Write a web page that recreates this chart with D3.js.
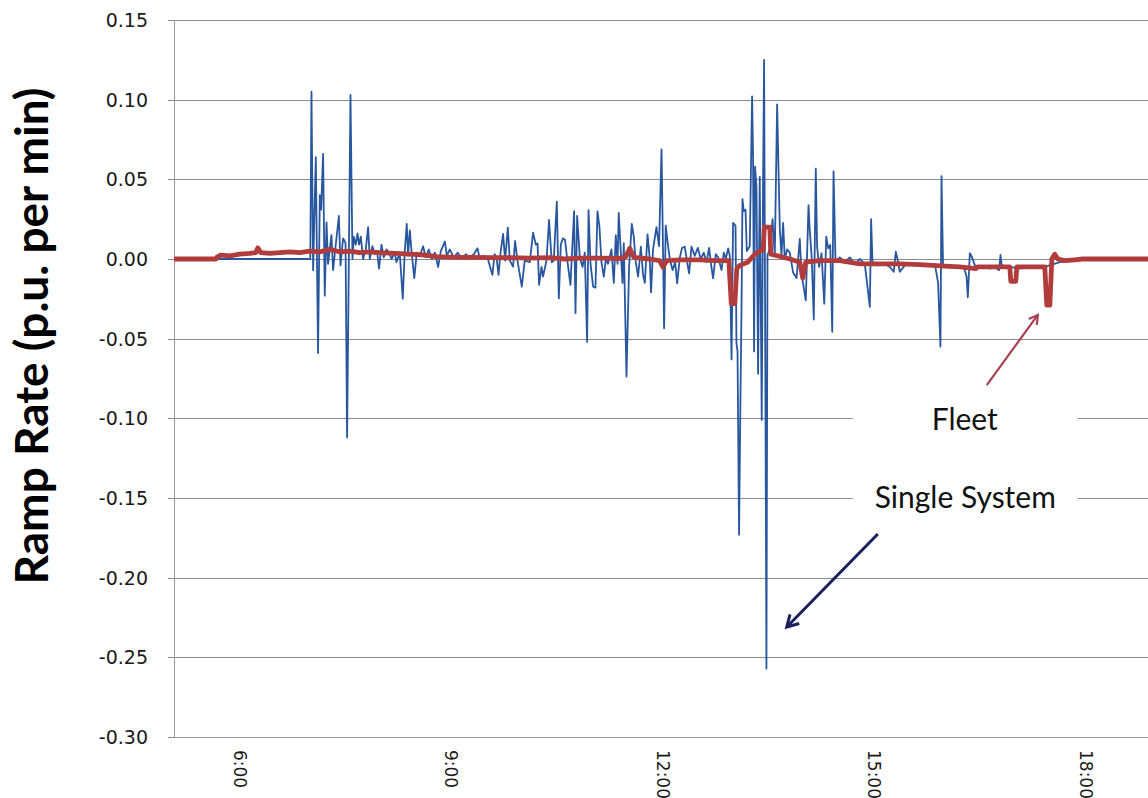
<!DOCTYPE html>
<html>
<head>
<meta charset="utf-8">
<script src="https://cdnjs.cloudflare.com/ajax/libs/d3/7.8.5/d3.min.js"></script>
<style>
  body { margin: 0; background: #fff; }
  svg { display: block; }
</style>
</head>
<body>
<svg id="chart" width="1148" height="798"></svg>
<script>
// Ramp rate series, [minutes after midnight, p.u. per min]
const singleSystem = [
  [304, 0], [420, 0], [421.0, 0.105], [422.4, -0.007], [424.7, 0.064], [425.8, -0.009],
  [426.6, -0.059], [428.1, 0.040], [429.2, 0.031], [430.9, 0.066], [432.3, -0.023],
  [433.8, 0.023], [435.1, -0.003], [438.0, 0.015], [439.4, -0.007], [440.8, 0.003],
  [444.3, 0.027], [445.7, -0.004], [447.9, 0.013], [450.0, 0.010], [451.3, -0.112],
  [454.2, 0.103], [455.9, 0.0], [457.0, 0.014], [458.7, 0.009], [460.2, 0.016],
  [461.5, 0.009], [463.0, 0.014], [464.9, 0.0], [467.2, 0.006], [469.2, 0.020],
  [470.6, 0.0], [472.9, 0.008], [474.9, 0.003], [476.8, 0.005], [478.5, -0.006],
  [480.6, 0.009], [482.5, 0.001], [484.8, 0.006], [487.1, 0.004], [489.1, 0.0],
  [491.9, 0.004], [493.3, -0.002], [494.7, 0.001], [496.2, 0.003], [498.7, -0.025],
  [500.4, 0.005], [502.1, 0.022], [503.2, 0.002], [504.7, 0.018], [506.4, 0.003],
  [508.5, -0.012], [510.6, 0.004], [513.2, 0.002], [516.0, 0.008], [518.3, 0.001],
  [520.8, 0.006], [523.4, 0.0], [526.0, 0.004], [528.8, -0.005], [531.1, 0.005],
  [534.5, 0.011], [536.2, 0.002], [538.7, 0.006], [542.1, 0.001], [545.5, 0.004],
  [549.1, 0.0], [552.3, 0.003], [555.7, 0.001], [559.1, 0.003], [562.3, 0.0067],
  [564.3, 0.0], [567.7, 0.002], [571.1, 0.0], [575.0, -0.010], [576.8, 0.003],
  [578.5, 0.001], [580.2, -0.010], [581.9, 0.004], [584.1, 0.0157], [585.8, -0.001],
  [588.1, 0.0197], [589.8, -0.001], [592.6, -0.0048], [594.3, 0.0113], [596.3, -0.001],
  [600.0, -0.0174], [602.5, -0.001], [606.8, -0.002], [609.6, 0.0165], [611.9, 0.009],
  [613.4, 0.0098], [614.7, -0.0163], [616.8, -0.005], [618.1, -0.011], [621.0, -0.001],
  [623.2, 0.0245], [625.5, -0.002], [627.2, -0.001], [629.8, 0.036], [631.5, -0.0247],
  [633.2, 0.009], [635.1, 0.013], [636.8, 0.012], [638.6, 0.0], [641.4, -0.0163],
  [644.5, 0.030], [645.7, -0.034], [647.1, 0.027], [649.4, 0.001], [651.7, -0.005],
  [653.6, 0.004], [655.6, -0.052], [656.8, 0.0307], [658.5, -0.003], [660.7, -0.0174],
  [662.7, -0.018], [664.4, 0.030], [666.1, 0.020], [667.8, -0.002], [669.8, -0.011],
  [671.5, 0.0], [673.4, -0.003], [676.3, 0.006], [678.3, -0.015], [680.0, 0.015],
  [681.5, -0.003], [682.5, 0.029], [684.0, 0.008], [685.7, -0.015], [686.8, 0.010],
  [689.1, -0.0738], [691.3, -0.005], [693.6, 0.022], [695.3, 0.014], [697.0, -0.002],
  [699.0, -0.011], [701.3, 0.0077], [703.2, -0.010], [704.7, -0.015], [707.0, 0.0155],
  [708.9, 0.0], [710.0, -0.021], [711.7, 0.006], [714.6, 0.020], [716.8, 0.008],
  [718.9, 0.0688], [720.3, 0.0], [721.1, -0.0435], [722.5, 0.021], [724.5, 0.008],
  [726.0, 0.0], [728.3, -0.007], [730.5, -0.002], [732.2, -0.0153], [734.5, 0.001],
  [736.4, 0.007], [738.7, 0.0077], [740.7, -0.002], [742.4, -0.009], [744.4, 0.0077],
  [747.2, 0.002], [749.8, 0.007], [752.3, 0.0], [754.9, 0.004], [757.2, -0.002],
  [759.4, 0.007], [760.8, -0.002], [762.8, -0.0121], [765.1, 0.003], [767.1, 0.001],
  [770.0, -0.0069], [771.9, 0.004], [773.6, 0.0], [775.6, 0.0067], [777.0, 0.002],
  [778.5, -0.063], [779.8, 0.0226], [781.9, 0.021], [782.7, -0.053], [783.6, -0.058],
  [784.9, -0.173], [786.1, -0.086], [787.0, -0.030], [787.8, 0.0376], [788.9, 0.030],
  [790.4, 0.031], [791.5, 0.005], [794.0, 0.008], [796.0, 0.102], [796.8, 0.0655],
  [797.7, -0.058], [798.5, 0.058], [799.7, 0.0453], [801.1, -0.072], [802.5, 0.0516],
  [804.2, -0.101], [805.3, 0.045], [806.2, 0.125], [807.4, -0.096], [808.2, -0.257],
  [809.1, 0.0025], [811.1, 0.006], [813.4, 0.025], [815.3, 0.002], [817.3, 0.097],
  [818.5, 0.0555], [819.6, 0.0186], [821.0, 0.002], [822.4, 0.0226], [823.8, 0.0],
  [825.8, 0.006], [828.1, 0.004], [830.9, -0.0085], [833.8, -0.012], [836.6, 0.0126],
  [838.0, -0.009], [840.0, -0.0183], [841.7, -0.026], [844.0, 0.0338], [845.1, 0.018],
  [846.8, 0.0], [848.5, -0.038], [850.2, 0.0567], [851.3, 0.008], [853.0, -0.005],
  [855.1, 0.0036], [857.4, -0.028], [859.1, 0.014], [860.8, 0.0067], [862.5, 0.0088],
  [864.2, -0.0457], [865.3, 0.055], [867.0, -0.002], [870.6, 0.001], [874.9, -0.002],
  [879.1, 0.001], [883.4, -0.003], [887.7, 0.0], [891.9, -0.003], [896.2, -0.030],
  [897.3, 0.025], [898.5, -0.003], [903.0, -0.004], [908.9, -0.003], [913.2, -0.005],
  [916.6, -0.008], [918.3, 0.0046], [920.0, -0.001], [921.7, -0.008], [926.0, -0.004],
  [931.9, -0.003], [938.7, -0.004], [945.5, -0.003], [951.5, -0.003], [954.3, -0.015],
  [956.3, -0.055], [957.2, 0.052], [958.5, -0.004], [964.2, -0.004], [971.1, -0.005],
  [976.2, -0.005], [978.5, -0.011], [979.6, -0.024], [981.3, 0.0036], [983.0, 0.0015],
  [985.5, -0.004], [989.8, -0.005], [994.0, -0.005], [998.3, -0.006], [1002.5, -0.005],
  [1006.2, -0.007], [1007.4, 0.0025], [1008.5, -0.004], [1015.3, -0.005], [1023.8, -0.006],
  [1032.3, -0.005], [1045.1, -0.005], [1057.9, -0.002], [1070.6, -0.001], [1077.4, 0],
  [1143, 0]
];

const fleet = [
  [304, 0], [339.6, 0], [340.4, 0.001], [343.8, 0.0025], [351.5, 0.002], [360, 0.003],
  [368.5, 0.0035], [373.6, 0.004], [375.3, 0.007], [377.9, 0.004], [385.5, 0.0035],
  [394.0, 0.004], [402.5, 0.0045], [411.1, 0.004], [419.6, 0.005], [428.1, 0.0045],
  [436.6, 0.006], [445.1, 0.0045], [453.6, 0.005], [462.1, 0.004], [470.6, 0.0045],
  [479.1, 0.004], [491.9, 0.0035], [504.7, 0.003], [517.4, 0.0025], [527.6, 0.0015],
  [543.0, 0.001], [555.7, 0.001], [572.8, 0.0008], [589.8, 0.0008], [606.8, 0.0005],
  [623.8, 0.0008], [636.6, 0.0], [649.4, 0.0005], [666.4, 0.0005], [683.4, 0.0003],
  [688.5, 0.0015], [691.9, 0.0067], [695.3, 0.001], [708.9, 0.0], [717.4, -0.001],
  [720.0, -0.005], [723.4, -0.001], [734.5, -0.0005], [751.5, -0.0005], [764.3, -0.001],
  [776.2, -0.001], [778.3, -0.028], [781.3, -0.028], [783.0, -0.006], [785.5, -0.004],
  [792.3, -0.002], [798.3, 0.003], [802.5, 0.005], [805.5, 0.006], [806.4, 0.020],
  [811.1, 0.020], [811.9, 0.003], [817.9, 0.002], [828.1, 0.0], [836.6, -0.002],
  [839.1, -0.012], [841.7, -0.002], [853.6, -0.001], [870.6, -0.001], [887.7, -0.003],
  [904.7, -0.003], [921.7, -0.003], [938.7, -0.0035], [960.0, -0.0045], [972.8, -0.005],
  [986.4, -0.006], [988.1, -0.005], [1006.8, -0.005], [1015.3, -0.005], [1016.2, -0.014],
  [1020.4, -0.014], [1021.3, -0.005], [1032.3, -0.005], [1045.1, -0.005], [1046.8, -0.029],
  [1049.4, -0.029], [1051.1, 0.0], [1053.6, 0.003], [1056.2, 0.0], [1061.9, -0.001],
  [1070.6, -0.0005], [1077.4, 0], [1143, 0]
];

const yTickValues = [-0.30, -0.25, -0.20, -0.15, -0.10, -0.05, 0.00, 0.05, 0.10, 0.15];
const xTickHours = [6, 9, 12, 15, 18];
const yTitle = "Ramp Rate (p.u. per min)";

// callouts in data units: label position, arrow start and end, blank box behind label
const callouts = [
  { text: "Fleet", at: [977, -0.1073], from: [995.7, -0.0791], to: [1039.2, -0.0351],
    box: [881.7, 1073.2, -0.087, -0.115], color: "#a8414f", width: 2.2, head: 10 },
  { text: "Single System", at: [977.4, -0.1563], from: [903, -0.1726], to: [825.5, -0.231],
    box: [881.7, 1073.2, -0.137, -0.165], color: "#1c1f5e", width: 3, head: 13 }
];

const base = new Date(2013, 5, 1).getTime();
const toDate = m => new Date(base + m * 60000);

const svg = d3.select("#chart");
const margin = { left: 174, top: 20, bottom: 737 };

const x = d3.scaleTime()
  .domain([toDate(304), toDate(1143)])
  .range([174, 174 + 839 * 70.5 / 60]);

const y = d3.scaleLinear()
  .domain([-0.30, 0.15])
  .range([margin.bottom, margin.top]);

svg.append("rect").attr("width", 1148).attr("height", 798).attr("fill", "#fff");

// gridlines
svg.append("g")
  .selectAll("line")
  .data(yTickValues)
  .enter().append("line")
  .attr("x1", margin.left - 6)
  .attr("x2", 1148)
  .attr("y1", d => Math.round(y(d)) + 0.5)
  .attr("y2", d => Math.round(y(d)) + 0.5)
  .attr("stroke", "#8a8a8a")
  .attr("stroke-width", 1);

// left axis line
svg.append("line")
  .attr("x1", margin.left + 0.5).attr("x2", margin.left + 0.5)
  .attr("y1", margin.top).attr("y2", margin.bottom + 0.5)
  .attr("stroke", "#9a9a9a");

// y tick labels (plain hyphen for negatives, as in the original)
svg.append("g")
  .selectAll("text")
  .data(yTickValues)
  .enter().append("text")
  .attr("x", 148)
  .attr("y", d => y(d))
  .attr("dy", "0.36em")
  .attr("text-anchor", "end")
  .attr("font-family", "DejaVu Sans, Verdana, sans-serif")
  .attr("font-size", 19)
  .attr("fill", "#1a1a1a")
  .text(d => d3.format(".2f")(d).replace("\u2212", "-"));

// x tick labels, rotated
svg.append("g")
  .selectAll("text")
  .data(xTickHours)
  .enter().append("text")
  .attr("transform", d => `translate(${x(toDate(d * 60))},750) rotate(90)`)
  .attr("dy", "0.36em")
  .attr("text-anchor", "start")
  .attr("font-family", "DejaVu Sans, Verdana, sans-serif")
  .attr("font-size", 17)
  .attr("fill", "#1a1a1a")
  .text(d => d3.timeFormat("%-H:%M")(toDate(d * 60)));

// y axis title
const title = svg.append("text")
  .attr("transform", "translate(32,336) rotate(-90)")
  .attr("text-anchor", "middle")
  .attr("dy", "0.35em")
  .attr("font-family", "Lato, 'Open Sans', sans-serif")
  .attr("font-weight", 700)
  .attr("font-size", 44)
  .attr("fill", "#000")
  .text(yTitle);
const tl = title.node().getComputedTextLength();
title.attr("font-size", 44 * 497 / tl);

// blank boxes behind callout labels
svg.append("g")
  .selectAll("rect")
  .data(callouts)
  .enter().append("rect")
  .attr("x", d => x(toDate(d.box[0])))
  .attr("width", d => x(toDate(d.box[1])) - x(toDate(d.box[0])))
  .attr("y", d => y(d.box[2]))
  .attr("height", d => y(d.box[3]) - y(d.box[2]))
  .attr("fill", "#fff");

const line = d3.line()
  .x(d => x(toDate(d[0])))
  .y(d => y(d[1]));

const plot = svg.append("g");

plot.append("path")
  .datum(singleSystem)
  .attr("d", line)
  .attr("fill", "none")
  .attr("stroke", "#28579f")
  .attr("stroke-width", 1.8)
  .attr("stroke-linejoin", "round");

plot.append("path")
  .datum(fleet)
  .attr("d", line)
  .attr("fill", "none")
  .attr("stroke", "#b23c3c")
  .attr("stroke-width", 4.8)
  .attr("stroke-linejoin", "round");

// bottom axis line
svg.append("line")
  .attr("x1", margin.left).attr("x2", 1148)
  .attr("y1", margin.bottom + 0.5).attr("y2", margin.bottom + 0.5)
  .attr("stroke", "#9a9a9a");

// callout text and arrows
callouts.forEach(c => {
  svg.append("text")
    .attr("x", x(toDate(c.at[0])))
    .attr("y", y(c.at[1]))
    .attr("text-anchor", "middle")
    .attr("font-family", "Lato, 'Open Sans', sans-serif")
    .attr("font-size", 30)
    .attr("fill", "#111")
    .text(c.text);

  const x1 = x(toDate(c.from[0])), y1 = y(c.from[1]);
  const x2 = x(toDate(c.to[0])), y2 = y(c.to[1]);
  svg.append("line")
    .attr("x1", x1).attr("y1", y1).attr("x2", x2).attr("y2", y2)
    .attr("stroke", c.color)
    .attr("stroke-width", c.width);

  const ang = Math.atan2(y2 - y1, x2 - x1);
  const spread = Math.PI / 6;
  const p1 = [x2 - c.head * Math.cos(ang - spread), y2 - c.head * Math.sin(ang - spread)];
  const p2 = [x2 - c.head * Math.cos(ang + spread), y2 - c.head * Math.sin(ang + spread)];
  svg.append("path")
    .attr("d", `M${p1[0]},${p1[1]}L${x2},${y2}L${p2[0]},${p2[1]}`)
    .attr("fill", "none")
    .attr("stroke", c.color)
    .attr("stroke-width", c.width)
    .attr("stroke-linejoin", "miter");
});
</script>
</body>
</html>
